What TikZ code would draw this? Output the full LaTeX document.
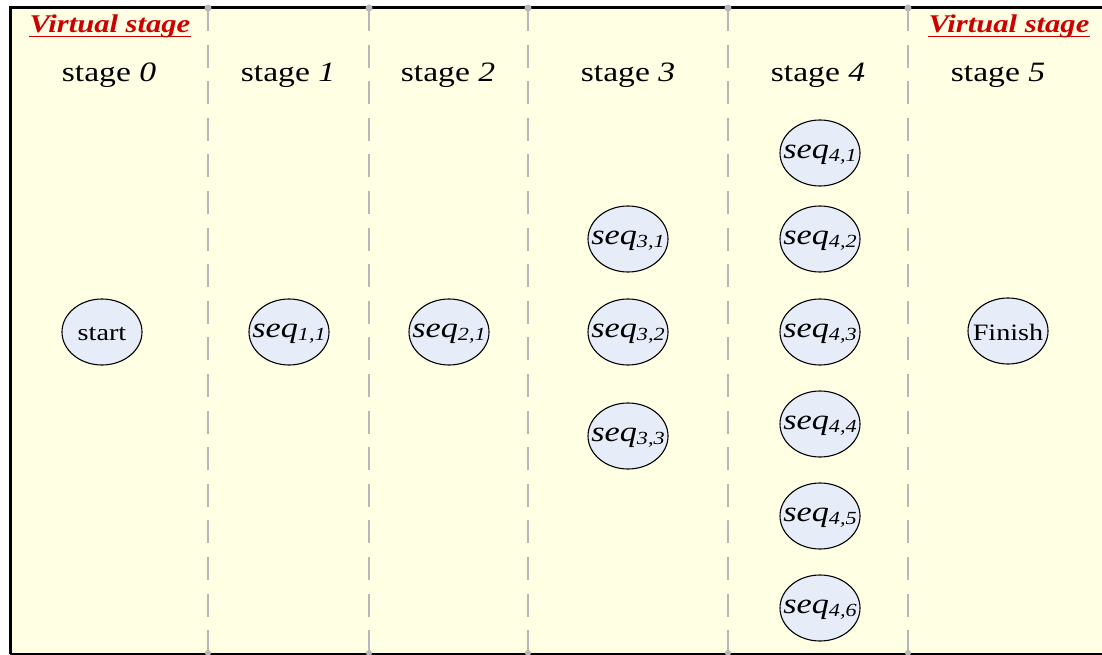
\documentclass[tikz,border=0pt]{standalone}
\usepackage{fontspec}
\setmainfont[FakeStretch=1.2]{Liberation Serif}
\usetikzlibrary{shapes.geometric,calc}

\definecolor{paper}{RGB}{255,255,228}
\definecolor{nodefill}{RGB}{230,236,248}
\definecolor{vred}{RGB}{204,0,0}
\definecolor{sepgray}{RGB}{184,184,184}
\definecolor{baseline}{RGB}{96,96,96}

% italic "seq" with an italic index pair
\newcommand{\seqlbl}[2]{\fontsize{28.5}{30}\selectfont\itshape seq\raisebox{-3pt}{\fontsize{18.5}{20}\selectfont #1,#2}}

\begin{document}
\begin{tikzpicture}[x=1pt,y=-1pt,
  seqnode/.style={ellipse, draw=black, line width=1.1pt, fill=nodefill,
    minimum width=80pt, minimum height=66pt, inner sep=0pt,
    label={[inner sep=0pt, yshift=-1.5pt]center:#1}},
  plainnode/.style={seqnode={\fontsize{23.5}{25}\selectfont #1}},
  stagelbl/.style={anchor=base, inner sep=0pt, font=\fontsize{28}{30}\selectfont},
  virtlbl/.style={anchor=base, inner sep=0pt, text=vred,
    font=\fontsize{25.5}{27}\selectfont\bfseries\itshape},
  virtline/.style={draw=vred, line width=1.8pt},
  separator/.style={draw=sepgray, line width=2.8pt, dash pattern=on 23pt off 13.6pt}]

\useasboundingbox (0,0) rectangle (1102,655);
\fill[white] (0,0) rectangle (1102,655);

% stage area
\fill[paper] (10,8) rectangle (1102,653);
\draw[baseline, line width=2pt] (10,653.5) -- (1102,653.5);
\draw[black, line width=3pt] (1102,8) -- (10,8) -- (10,654);

% stage separators
\foreach \x in {208,369,528,728,908} {
  \draw[separator] (\x,8) -- (\x,653);
  \fill[sepgray] (\x,8) circle (3.5pt);
  \fill[sepgray] (\x,653) circle (3pt);
}

% virtual stage markers
\node[virtlbl] (v0) at (110,33) {Virtual stage};
\node[virtlbl] (v5) at (1009,33) {Virtual stage};
\draw[virtline] ($(v0.base west)+(0,3.5)$) -- ($(v0.base east)+(0,3.5)$);
\draw[virtline] ($(v5.base west)+(0,3.5)$) -- ($(v5.base east)+(0,3.5)$);

% stage headings
\node[stagelbl] (s0) at (109,82) {stage \textit{0}};
\node[stagelbl] (s1) at (288,82) {stage \textit{1}};
\node[stagelbl] (s2) at (448,82) {stage \textit{2}};
\node[stagelbl] (s3) at (628,82) {stage \textit{3}};
\node[stagelbl] (s4) at (818,82) {stage \textit{4}};
\node[stagelbl] (s5) at (998,82) {stage \textit{5}};

% sequence nodes
\node[plainnode=start] (start) at (102,332) {};
\node[seqnode=\seqlbl{1}{1}] (q11) at (289,332) {};
\node[seqnode=\seqlbl{2}{1}] (q21) at (449,332) {};
\node[seqnode=\seqlbl{3}{1}] (q31) at (628,239) {};
\node[seqnode=\seqlbl{3}{2}] (q32) at (628,332) {};
\node[seqnode=\seqlbl{3}{3}] (q33) at (628,436) {};
\node[seqnode=\seqlbl{4}{1}] (q41) at (820,153) {};
\node[seqnode=\seqlbl{4}{2}] (q42) at (820,239) {};
\node[seqnode=\seqlbl{4}{3}] (q43) at (820,332) {};
\node[seqnode=\seqlbl{4}{4}] (q44) at (820,424) {};
\node[seqnode=\seqlbl{4}{5}] (q45) at (820,516) {};
\node[seqnode=\seqlbl{4}{6}] (q46) at (820,608) {};
\node[plainnode=Finish] (finish) at (1008,331) {};
\end{tikzpicture}
\end{document}
